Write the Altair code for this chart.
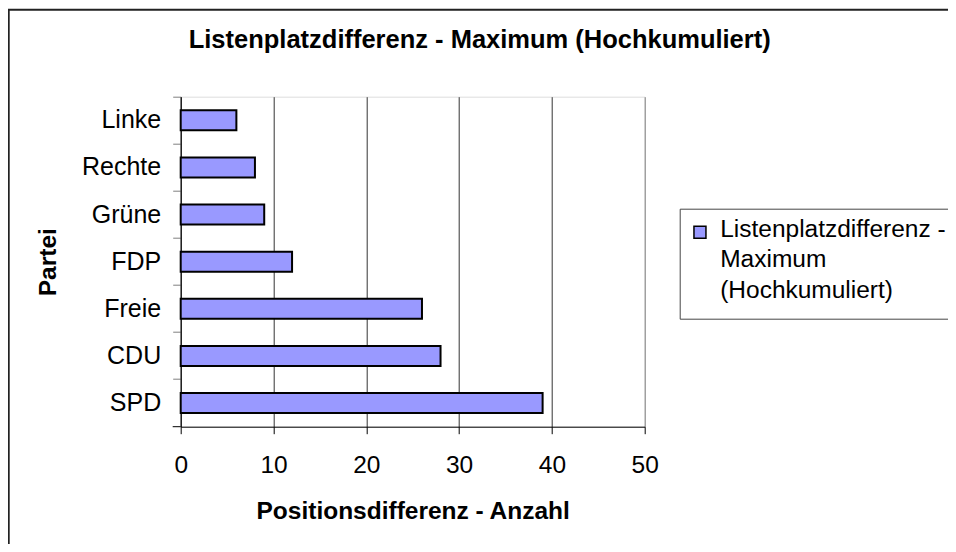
import json
import altair as alt
import pandas as pd

parteien = ["Linke", "Rechte", "Grüne", "FDP", "Freie", "CDU", "SPD"]
werte = [6, 8, 9, 12, 26, 28, 39]
serie = "Listenplatzdifferenz - Maximum (Hochkumuliert)"
legend_lines = ["Listenplatzdifferenz -", "Maximum", "(Hochkumuliert)"]
x_ticks = [0, 10, 20, 30, 40, 50]

FONT = "Liberation Sans"

df = pd.DataFrame({"Partei": parteien, "Wert": werte, "Serie": [serie] * len(parteien)})
one = pd.DataFrame({"k": [0]})

bars = alt.Chart(df).mark_bar(size=20, stroke="black", strokeWidth=2).encode(
    x=alt.X(
        "Wert:Q",
        scale=alt.Scale(domain=[0, 50], nice=False, zero=True),
        axis=alt.Axis(
            values=x_ticks,
            title="Positionsdifferenz - Anzahl",
            titleFont=FONT, titleFontSize=24.5, titleFontWeight="bold", titleColor="black",
            titleBaseline="alphabetic", titleY=92,
            labelFont=FONT, labelFontSize=24.5, labelColor="black", labelPadding=20,
            labelFlush=False,
            tickColor="black", tickSize=7, tickWidth=1,
            domainColor="black", domainWidth=1,
            grid=True, gridWidth=1,
            gridColor={"condition": {"test": "datum.value === 50", "value": "#808080"}, "value": "#333333"},
        ),
    ),
    y=alt.Y(
        "Partei:N",
        sort=parteien,
        scale=alt.Scale(paddingInner=0, paddingOuter=0),
        axis=alt.Axis(
            title="Partei",
            titleFont=FONT, titleFontSize=24.5, titleFontWeight="bold", titleColor="black",
            titleAngle=270, titleAlign="center", titleBaseline="middle",
            titleX=-132, titleY=165,
            labelFont=FONT, labelFontSize=25, labelColor="black", labelPadding=12,
            tickColor="#808080", tickSize=8, tickWidth=1, bandPosition=0,
            domainColor="black", domainWidth=1,
            grid=False,
        ),
    ),
    color=alt.Color(
        "Serie:N",
        scale=alt.Scale(range=["#9999FF"]),
        legend=alt.Legend(
            title=None,
            orient="none", legendX=499, legendY=112,
            labelExpr=json.dumps(legend_lines),
            labelFont=FONT, labelFontSize=24.5, labelColor="black", labelLimit=400,
            labelBaseline="alphabetic", labelOffset=0,
            symbolType="M-2.33,-1.8H-0.33V0.2H-2.33Z", symbolSize=144,
            symbolStrokeColor="black", symbolStrokeWidth=1.5,
            strokeColor="#444444", padding=16,
        ),
    ),
)

bottom_tick = alt.Chart(one).mark_rule(color="black", strokeWidth=1).encode(
    x=alt.value(-8), x2=alt.value(0), y=alt.value(330)
)

frame = alt.Chart(one).mark_rect(fill="transparent", stroke="#222222", strokeWidth=2).encode(
    x=alt.value(-172), x2=alt.value(1000), y=alt.value(-87), y2=alt.value(1000)
)

chart = alt.layer(frame, bars, bottom_tick).properties(
    width=464,
    height=330,
    autosize=alt.AutoSizeParams(type="none"),
    padding={"left": 172.7, "top": 88.7, "right": 303, "bottom": 117},
    title=alt.Title(
        "Listenplatzdifferenz - Maximum (Hochkumuliert)",
        font=FONT, fontSize=25.5, fontWeight="bold", color="black",
        anchor="middle", dx=67, offset=-65, baseline="alphabetic",
    ),
).configure_view(stroke="#808080", strokeWidth=2).configure(
    background="white",
    style={"guide-label": {"lineHeight": 30.5}},
)

chart.save("out.html", embed_options={"renderer": "svg", "actions": False})
